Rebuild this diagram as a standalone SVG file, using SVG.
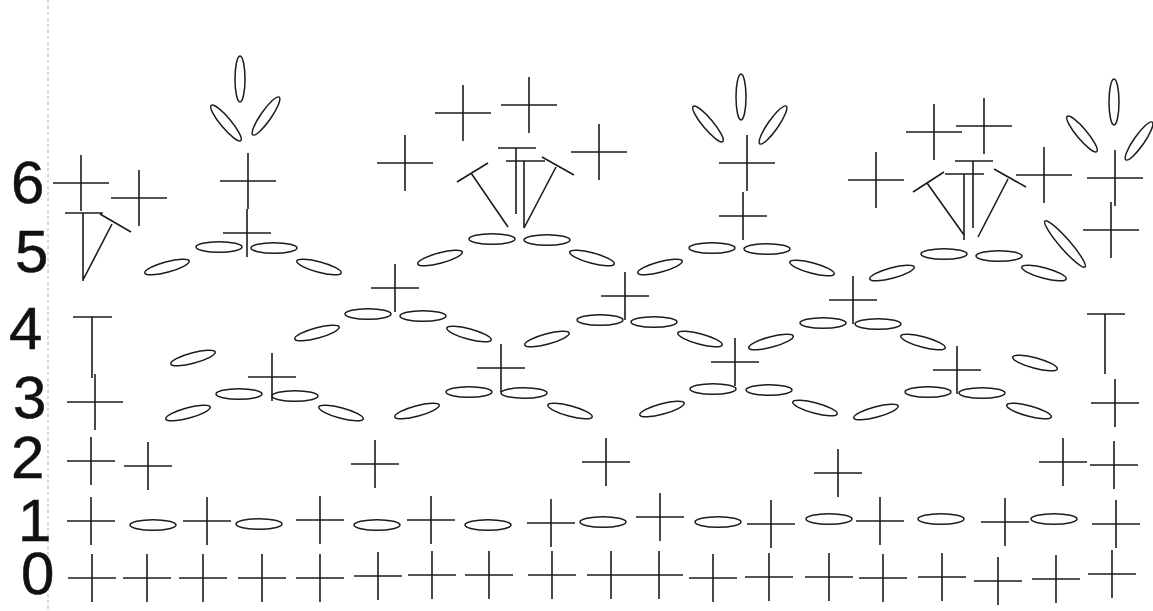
<svg xmlns="http://www.w3.org/2000/svg" width="1153" height="611" viewBox="0 0 1153 611">
<style>
text{font-family:"Liberation Sans",Arial,sans-serif;font-size:60px;fill:#111;stroke:#111;stroke-width:.5}
path,line{stroke:#1c1c1c;stroke-width:1.6;fill:none}
ellipse{stroke:#1c1c1c;stroke-width:1.5;fill:#fff}
line.g{stroke:#ccc;stroke-width:1.5;stroke-dasharray:3 3}
</style>
<defs>
<path id="L" d="M-28 0H28M0-28V28"/>
<path id="S" d="M-24 0H24M0-24V24"/>
<ellipse id="E" rx="23" ry="5.2"/>
<ellipse id="V" rx="5" ry="23"/>
</defs>
<rect width="1153" height="611" fill="#fff"/>
<line id="margin" class="g" x1="48" y1="0" x2="48" y2="611"/>
<g id="row-labels">
<text x="11" y="203">6</text>
<text x="15" y="272">5</text>
<text x="9" y="349">4</text>
<text x="13" y="418">3</text>
<text x="11" y="478">2</text>
<text x="18" y="541">1</text>
<text x="21" y="594">0</text>
</g>
<g id="row-0">
<use href="#S" x="92" y="578"/><use href="#S" x="147" y="578"/><use href="#S" x="203" y="578"/><use href="#S" x="262" y="578"/><use href="#S" x="320" y="578"/><use href="#S" x="378" y="576"/><use href="#S" x="432" y="575"/><use href="#S" x="489" y="575"/><use href="#S" x="552" y="575"/><use href="#S" x="611" y="575"/><use href="#S" x="659" y="575"/><use href="#S" x="713" y="578"/><use href="#S" x="769" y="577"/><use href="#S" x="829" y="577"/><use href="#S" x="883" y="578"/><use href="#S" x="942" y="577"/><use href="#S" x="998" y="581"/><use href="#S" x="1056" y="579"/><use href="#S" x="1112" y="574"/>
</g>
<g id="row-1">
<use href="#S" x="91" y="521"/><use href="#S" x="207" y="521"/><use href="#S" x="320" y="520"/><use href="#S" x="431" y="520"/><use href="#S" x="551" y="523"/><use href="#S" x="660" y="517"/><use href="#S" x="771" y="524"/><use href="#S" x="880" y="521"/><use href="#S" x="1005" y="522"/><use href="#S" x="1116" y="524"/>
<use href="#E" x="153" y="525"/><use href="#E" x="259" y="524"/><use href="#E" x="377" y="525"/><use href="#E" x="488" y="525"/><use href="#E" x="603" y="522"/><use href="#E" x="718" y="522"/><use href="#E" x="829" y="519"/><use href="#E" x="941" y="519"/><use href="#E" x="1054" y="519"/>
</g>
<g id="row-2">
<use href="#S" x="91" y="461"/><use href="#S" x="148" y="466"/><use href="#S" x="375" y="464"/><use href="#S" x="606" y="462"/><use href="#S" x="838" y="473"/><use href="#S" x="1063" y="462"/><use href="#S" x="1114" y="465"/>
</g>
<g id="row-3">
<use href="#L" x="95" y="402"/><use href="#S" x="1115" y="403"/>
<use href="#S" x="272" y="377"/><use href="#S" x="501" y="368"/><use href="#S" x="735" y="362"/><use href="#S" x="957" y="370"/>
<use href="#E" x="239" y="394"/><use href="#E" x="295" y="396"/><use href="#E" x="469" y="392"/><use href="#E" x="524" y="393"/><use href="#E" x="713" y="389"/><use href="#E" x="769" y="390"/><use href="#E" x="928" y="392"/><use href="#E" x="982" y="393"/>
<use href="#E" transform="translate(188 413) rotate(-15)"/>
<use href="#E" transform="translate(341 413) rotate(15)"/>
<use href="#E" transform="translate(417 411) rotate(-15)"/>
<use href="#E" transform="translate(570 411) rotate(15)"/>
<use href="#E" transform="translate(662 409) rotate(-15)"/>
<use href="#E" transform="translate(815 408) rotate(15)"/>
<use href="#E" transform="translate(876 412) rotate(-15)"/>
<use href="#E" transform="translate(1029 411) rotate(15)"/>
</g>
<g id="row-4">
<path d="M73 317H112M92 317V378M1087 314H1125M1105 314V374"/>
<use href="#S" x="395" y="288"/><use href="#S" x="625" y="296"/><use href="#S" x="853" y="300"/>
<use href="#E" x="368" y="314"/><use href="#E" x="423" y="316"/><use href="#E" x="600" y="320"/><use href="#E" x="654" y="322"/><use href="#E" x="823" y="323"/><use href="#E" x="878" y="324"/>
<use href="#E" transform="translate(193 358) rotate(-15)"/>
<use href="#E" transform="translate(317 333) rotate(-15)"/>
<use href="#E" transform="translate(469 334) rotate(15)"/>
<use href="#E" transform="translate(547 339) rotate(-15)"/>
<use href="#E" transform="translate(700 339) rotate(15)"/>
<use href="#E" transform="translate(771 342) rotate(-15)"/>
<use href="#E" transform="translate(923 342) rotate(15)"/>
<use href="#E" transform="translate(1035 363) rotate(15)"/>
</g>
<g id="row-5">
<use href="#S" x="247" y="233"/><use href="#S" x="743" y="216"/>
<use href="#E" x="219" y="247"/><use href="#E" x="274" y="248"/><use href="#E" x="492" y="239"/><use href="#E" x="547" y="240"/><use href="#E" x="712" y="248"/><use href="#E" x="767" y="249"/><use href="#E" x="944" y="254"/><use href="#E" x="999" y="256"/>
<use href="#E" transform="translate(167 267) rotate(-15)"/>
<use href="#E" transform="translate(319 267) rotate(15)"/>
<use href="#E" transform="translate(440 258) rotate(-15)"/>
<use href="#E" transform="translate(592 258) rotate(15)"/>
<use href="#E" transform="translate(660 267) rotate(-15)"/>
<use href="#E" transform="translate(812 268) rotate(15)"/>
<use href="#E" transform="translate(892 273) rotate(-15)"/>
<use href="#E" transform="translate(1044 273) rotate(15)"/>
<ellipse rx="30.5" ry="5.2" transform="translate(1065 244) rotate(49)"/>
<use href="#L" x="1111" y="230"/>
</g>
<g id="row-6">
<use href="#L" x="81" y="183"/><use href="#L" x="139" y="198"/><use href="#L" x="248" y="181"/>
<use href="#L" x="405" y="163"/><use href="#L" x="463" y="113"/><use href="#L" x="529" y="105"/><use href="#L" x="599" y="152"/>
<use href="#L" x="747" y="163"/>
<use href="#L" x="876" y="180"/><use href="#L" x="934" y="132"/><use href="#L" x="984" y="126"/><use href="#L" x="1044" y="175"/><use href="#L" x="1115" y="178"/>
<path d="M65 213H103M83 213V281M83 280L112 224M100 214L131 232"/>
<path d="M498 148H536M516 148V214M506 161H545M524 161V228M508 227L471 173M457 182L488 163M524 228L556 167M542 157L574 175"/>
<path d="M955 161H993M973 161V228M945 174H984M964 174V240M964 235L927 183M913 192L944 172M978 237L1008 179M994 169L1026 187"/>
</g>
<g id="fans">
<use href="#V" x="240" y="79"/>
<use href="#E" transform="translate(226 123) rotate(50)"/>
<use href="#E" transform="translate(266 116) rotate(-55)"/>
<use href="#V" x="741" y="97"/>
<use href="#E" transform="translate(708 124) rotate(50)"/>
<use href="#E" transform="translate(773 125) rotate(-55)"/>
<use href="#V" x="1114" y="102"/>
<use href="#E" transform="translate(1082 134) rotate(50)"/>
<use href="#E" transform="translate(1139 141) rotate(-55)"/>
</g>
</svg>
